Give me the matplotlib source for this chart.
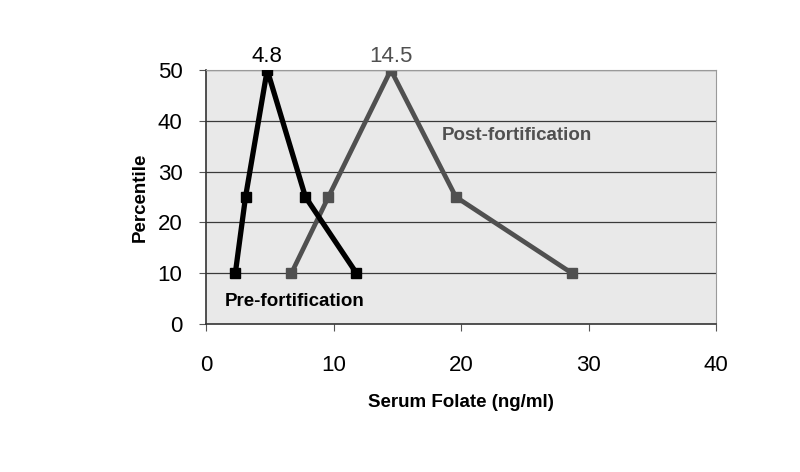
import matplotlib
matplotlib.use('Agg')
import matplotlib.pyplot as plt

# Serum folate percentiles
percentiles = [10, 25, 50, 25, 10]
pre_folate = [2.3, 3.1, 4.8, 7.8, 11.8]
post_folate = [6.7, 9.6, 14.5, 19.6, 28.7]

x_ticks = [0, 10, 20, 30, 40]
y_ticks = [0, 10, 20, 30, 40, 50]

plt.rcParams['font.family'] = ['Liberation Sans', 'DejaVu Sans']

fig = plt.figure(figsize=(8, 4.72), dpi=100)
ax = fig.add_axes([0.2575, 0.3136, 0.6375, 0.5381])
ax.set_facecolor('#e9e9e9')

for y in y_ticks[1:]:
    ax.axhline(y, color='#3a3a3a', linewidth=0.9, zorder=1)

ax.plot(pre_folate, percentiles, color='black', linewidth=3.8,
        marker='s', markersize=7, zorder=3)
ax.plot(post_folate, percentiles, color='#505050', linewidth=3.4,
        marker='s', markersize=7, zorder=2)

ax.set_xlim(0, 40)
ax.set_ylim(0, 50)
ax.set_xticks(x_ticks)
ax.set_yticks(y_ticks)
ax.tick_params(axis='both', labelsize=16, length=5, width=0.8, color='#555555')
ax.tick_params(axis='x', pad=17)
ax.tick_params(axis='y', pad=12)

for side in ['top', 'right']:
    ax.spines[side].set_color('#9a9a9a')
    ax.spines[side].set_linewidth(0.8)
for side in ['left', 'bottom']:
    ax.spines[side].set_color('#333333')
    ax.spines[side].set_linewidth(1.2)

ax.set_xlabel('Serum Folate (ng/ml)', fontsize=13.5, fontweight='bold', labelpad=13)
ax.set_ylabel('Percentile', fontsize=13.5, fontweight='bold', labelpad=6)

# peak values shown above the 50th percentile
ax.annotate(f'{pre_folate[2]}', (pre_folate[2], 50), xytext=(0, 2),
            textcoords='offset points', ha='center', va='bottom',
            fontsize=16, color='black', annotation_clip=False)
ax.annotate(f'{post_folate[2]}', (post_folate[2], 50), xytext=(0, 2),
            textcoords='offset points', ha='center', va='bottom',
            fontsize=16, color='#505050', annotation_clip=False)

ax.text(1.5, 4.4, 'Pre-fortification', fontsize=13.5, fontweight='bold',
        color='black', va='center')
ax.text(18.5, 37.2, 'Post-fortification', fontsize=13.5, fontweight='bold',
        color='#505050', va='center')

fig.savefig('out.png', dpi=100)
